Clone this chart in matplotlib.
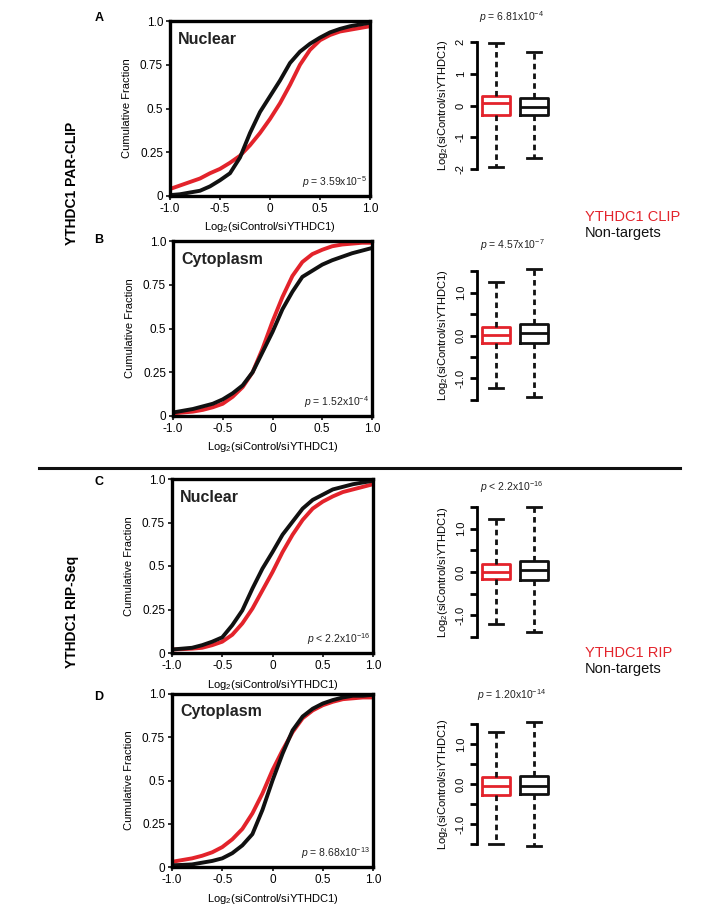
import matplotlib; matplotlib.use('Agg')
import matplotlib.pyplot as plt

plt.rcParams.update({'font.family': ['Liberation Sans', 'DejaVu Sans'],
                     'mathtext.fontset': 'custom',
                     'mathtext.rm': 'Liberation Sans',
                     'mathtext.it': 'Liberation Sans:italic',
                     'mathtext.bf': 'Liberation Sans:bold'})
RED = '#e3232b'; INK = '#111111'

# ---- data ----
x_grid = [-1.0, -0.9, -0.8, -0.7, -0.6, -0.5, -0.4, -0.3, -0.2, -0.1, 0.0,
          0.1, 0.2, 0.3, 0.4, 0.5, 0.6, 0.7, 0.8, 0.9, 1.0]

a_black = [0.005, 0.01, 0.02, 0.03, 0.055, 0.09, 0.13, 0.22, 0.36, 0.48, 0.57,
           0.66, 0.76, 0.825, 0.87, 0.905, 0.935, 0.955, 0.97, 0.98, 0.99]
a_red = [0.04, 0.06, 0.08, 0.10, 0.13, 0.155, 0.19, 0.23, 0.29, 0.36, 0.44,
         0.53, 0.635, 0.75, 0.835, 0.89, 0.92, 0.94, 0.95, 0.96, 0.97]
b_black = [0.02, 0.03, 0.04, 0.055, 0.07, 0.095, 0.13, 0.175, 0.25, 0.365, 0.48,
           0.61, 0.71, 0.795, 0.83, 0.865, 0.89, 0.91, 0.93, 0.945, 0.96]
b_red = [0.015, 0.02, 0.025, 0.035, 0.05, 0.07, 0.11, 0.165, 0.25, 0.385, 0.54,
         0.68, 0.80, 0.88, 0.925, 0.95, 0.97, 0.98, 0.985, 0.99, 0.99]
c_black = [0.02, 0.025, 0.03, 0.045, 0.065, 0.09, 0.16, 0.245, 0.37, 0.485, 0.58,
           0.68, 0.755, 0.83, 0.88, 0.91, 0.94, 0.955, 0.97, 0.98, 0.99]
c_red = [0.02, 0.022, 0.025, 0.03, 0.045, 0.065, 0.105, 0.17, 0.255, 0.36, 0.465,
         0.58, 0.68, 0.765, 0.83, 0.87, 0.90, 0.925, 0.94, 0.955, 0.97]
d_black = [0.01, 0.012, 0.015, 0.025, 0.035, 0.05, 0.08, 0.125, 0.19, 0.33, 0.50,
           0.655, 0.79, 0.87, 0.915, 0.945, 0.965, 0.98, 0.99, 0.99, 0.995]
d_red = [0.03, 0.04, 0.05, 0.065, 0.085, 0.115, 0.16, 0.22, 0.31, 0.425, 0.56,
         0.675, 0.78, 0.86, 0.905, 0.935, 0.955, 0.97, 0.975, 0.98, 0.98]

cdf_regions = ['Nuclear', 'Cytoplasm', 'Nuclear', 'Cytoplasm']
cdf_pvals = [r'$p$ = 3.59x10$^{-5}$', r'$p$ = 1.52x10$^{-4}$',
             r'$p$ < 2.2x10$^{-16}$', r'$p$ = 8.68x10$^{-13}$']
box_pvals = [r'$p$ = 6.81x10$^{-4}$', r'$p$ = 4.57x10$^{-7}$',
             r'$p$ < 2.2x10$^{-16}$', r'$p$ = 1.20x10$^{-14}$']

# box stats: [whislo, q1, med, q3, whishi] for targets (red) and non-targets (black)
box_red = [[-1.94, -0.29, 0.07, 0.30, 1.97],
           [-1.21, -0.17, 0.02, 0.20, 1.24],
           [-1.19, -0.17, 0.00, 0.19, 1.23],
           [-1.51, -0.27, -0.05, 0.17, 1.30]]
box_black = [[-1.66, -0.29, -0.05, 0.24, 1.68],
             [-1.43, -0.17, 0.05, 0.26, 1.55],
             [-1.39, -0.18, 0.05, 0.25, 1.50],
             [-1.55, -0.26, -0.05, 0.21, 1.56]]

# ---- layout (pixels) ----
W, H = 728, 914
fig = plt.figure(figsize=(7.28, 9.14), dpi=100)
fig.patch.set_facecolor('white')

def rect(x0, x1, y0, y1):
    return [x0 / W, 1 - y1 / H, (x1 - x0) / W, (y1 - y0) / H]

def ftext(x, y, s, **kw):
    fig.text(x / W, 1 - y / H, s, **kw)

cdf_boxes = [(170, 370, 21, 196), (173, 372, 241, 416), (172, 373, 479, 653), (172, 373, 694, 867)]
curves = [(a_black, a_red), (b_black, b_red), (c_black, c_red), (d_black, d_red)]
for (x0, x1, y0, y1), (blk, red), reg, pv in zip(cdf_boxes, curves, cdf_regions, cdf_pvals):
    ax = fig.add_axes(rect(x0, x1, y0, y1))
    ax.plot(x_grid, red, color=RED, lw=2.8, solid_capstyle='butt')
    ax.plot(x_grid, blk, color=INK, lw=2.8, solid_capstyle='butt')
    ax.set_xlim(-1, 1); ax.set_ylim(0, 1)
    ax.set_xticks([-1, -0.5, 0, 0.5, 1]); ax.set_xticklabels(['-1.0', '-0.5', '0', '0.5', '1.0'])
    ax.set_yticks([0, 0.25, 0.5, 0.75, 1]); ax.set_yticklabels(['0', '0.25', '0.5', '0.75', '1.0'])
    ax.tick_params(labelsize=8.5, length=3, width=1.2, pad=2, color=INK)
    for s in ax.spines.values():
        s.set_linewidth(2.4)
    ax.set_xlabel(r'Log$_2$(siControl/siYTHDC1)', fontsize=8, labelpad=4)
    ax.set_ylabel('Cumulative Fraction', fontsize=8, labelpad=6)
    ax.text(0.04, 0.87, reg, transform=ax.transAxes, fontsize=11.5, fontweight='bold', color='#222222')
    ax.text(0.985, 0.06, pv, transform=ax.transAxes, fontsize=7.5, ha='right', color='#222222')

box_axes = [(42, 169, 2.0), (271, 400, 1.5), (507, 637, 1.5), (724, 844, 1.5)]
title_y = [17, 245, 487, 695]
for i, (y0, y1, lim) in enumerate(box_axes):
    ax = fig.add_axes(rect(477, 577, y0, y1))
    stats = []
    for vals in (box_red[i], box_black[i]):
        lo, q1, med, q3, hi = vals
        stats.append(dict(whislo=lo, q1=q1, med=med, q3=q3, whishi=hi, fliers=[]))
    bp = ax.bxp(stats, positions=[1, 2], widths=0.74, showfliers=False, patch_artist=False)
    for j, col in enumerate([RED, INK]):
        bp['boxes'][j].set(color=col, lw=2)
        bp['medians'][j].set(color=col, lw=2)
        for k in (2 * j, 2 * j + 1):
            bp['whiskers'][k].set(color=INK, lw=2, ls=(0, (2, 1.5)))
            bp['caps'][k].set(color=INK, lw=2)
    for art in bp['whiskers'] + bp['caps']:
        art.set_clip_on(False)
    ax.set_xlim(0.5, 3.13); ax.set_ylim(-lim, lim)
    for s in ['top', 'right', 'bottom']:
        ax.spines[s].set_visible(False)
    ax.spines['left'].set_linewidth(2)
    ax.set_xticks([])
    if lim == 2.0:
        ax.set_yticks([-2, -1, 0, 1, 2]); ax.set_yticklabels(['-2', '-1', '0', '1', '2'])
    else:
        ax.set_yticks([-1.5, -1, -0.5, 0, 0.5, 1, 1.5])
        ax.set_yticklabels(['', '-1.0', '', '0.0', '', '1.0', ''])
    ax.tick_params(axis='y', labelsize=8, length=5, width=2, pad=3, labelrotation=90)
    for lab in ax.get_yticklabels():
        lab.set_va('center')
    ax.set_ylabel(r'Log$_2$(siControl/siYTHDC1)', fontsize=8, labelpad=4)
    ftext(512, title_y[i], box_pvals[i], fontsize=7.5, ha='center', va='center', color='#222222')

# legends
ftext(585, 217, 'YTHDC1 CLIP', fontsize=10.5, color=RED, va='center')
ftext(585, 233, 'Non-targets', fontsize=10.5, color=INK, va='center')
ftext(585, 653, 'YTHDC1 RIP', fontsize=10.5, color=RED, va='center')
ftext(585, 669, 'Non-targets', fontsize=10.5, color=INK, va='center')

# group labels, panel letters, divider
ftext(72, 183, 'YTHDC1 PAR-CLIP', fontsize=10, fontweight='bold', rotation=90, ha='center', va='center')
ftext(72, 612, 'YTHDC1 RIP-Seq', fontsize=10, fontweight='bold', rotation=90, ha='center', va='center')
for letter, yy in zip('ABCD', [18, 240, 482, 697]):
    ftext(99, yy, letter, fontsize=9, fontweight='bold', ha='center', va='center')
fig.add_artist(plt.Line2D([39 / W, 680 / W], [1 - 468 / H, 1 - 468 / H], color=INK, lw=2.2))

fig.savefig('out.png', dpi=100, facecolor='white')
